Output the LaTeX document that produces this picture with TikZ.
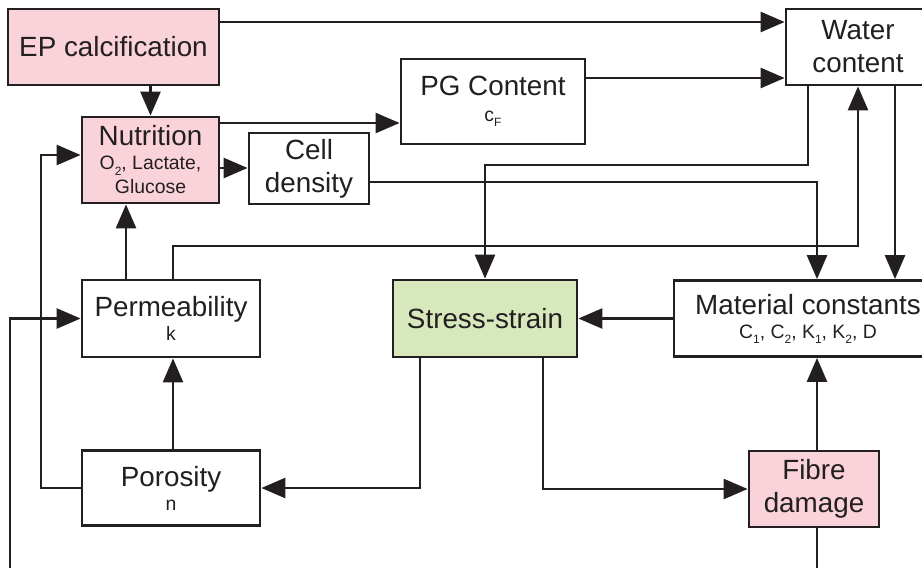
\documentclass[tikz,border=0pt]{standalone}
\usepackage{fontspec}
\setmainfont{Liberation Sans}
\usetikzlibrary{arrows.meta}

\definecolor{inkgray}{RGB}{35,31,32}
\definecolor{boxpink}{RGB}{250,211,218}
\definecolor{boxgreen}{RGB}{215,232,188}

% small lines under a box title and their lowered indices
\newcommand{\subline}{\fontsize{9.7}{11.5}\selectfont}
\newcommand{\lowidx}[1]{\raisebox{-0.5ex}{\fontsize{6}{6}\selectfont #1}}

\begin{document}
\begin{tikzpicture}[x=0.5pt,y=-0.5pt,>={Triangle[length=12pt,width=10pt]},
		flow/.style={->,line width=1.3pt,draw=inkgray},
		wire/.style={line width=1.3pt,draw=inkgray},
		main box/.style={rectangle,draw=inkgray,line width=1.4pt,fill=white,text=inkgray,
			align=center,inner sep=0pt,font=\fontsize{13.9}{12}\selectfont},
		two line/.style={font=\fontsize{13.9}{16.5}\selectfont}]
		
		\useasboundingbox (0,0) rectangle (922,568);
		\clip (0,0) rectangle (922,568);
		
		\node[main box,fill=boxpink,minimum width=105.5pt,minimum height=38pt] (ep) at (113.5,47) {EP calcification};
		\node[main box,fill=boxpink,minimum width=68.5pt,minimum height=43pt] (nutr) at (150.5,160)
		{Nutrition\\{\subline O\lowidx{2}, Lactate,}\\{\subline Glucose}};
		\node[main box,two line,minimum width=60pt,minimum height=35.5pt] (cell) at (309,168.5) {Cell\\density};
		\node[main box,minimum width=92pt,minimum height=42.5pt] (pg) at (493,101.5) {PG Content\\[1pt]{\subline c\lowidx{F}}};
		\node[main box,two line,minimum width=72pt,minimum height=38pt] (water) at (858,47) {Water\\content};
		\node[main box,minimum width=89pt,minimum height=38.5pt] (perm) at (171,318.5) {Permeability\\{\subline k}};
		\node[main box,fill=boxgreen,minimum width=92pt,minimum height=38.5pt] (stress) at (485,318.5) {Stress-strain};
		\node[main box,minimum width=134pt,minimum height=38pt] (mat) at (808,318.5)
		{Material constants\\{\subline C\lowidx{1}, C\lowidx{2}, K\lowidx{1}, K\lowidx{2}, D}};
		\node[main box,minimum width=89pt,minimum height=37.5pt] (poro) at (171,488) {Porosity\\{\subline n}};
		\node[main box,fill=boxpink,two line,minimum width=65pt,minimum height=38pt] (fibre) at (814,489) {Fibre\\damage};
		
		\coordinate (leftfeed) at (10,575);
		\coordinate (fibrefeed) at (817,575);
		
		% upper part
		\draw[flow] (ep.east |- 0,22) -- (water.west |- 0,22);
		\draw[flow] (pg.east |- 0,78) -- (water.west |- 0,78);
		\draw[flow] (ep.south -| nutr.north) -- (nutr.north);
		\draw[flow] (nutr.east |- 0,123) -- (pg.west |- 0,123);
		\draw[flow] (nutr.east |- 0,168) -- (cell.west |- 0,168);
		\draw[flow] (water.south -| 808,0) |- (stress.north |- 0,165) -- (stress.north);
		\draw[flow] (water.south -| 895,0) -- (mat.north -| 895,0);
		\draw[flow] (cell.east |- 0,182) -| (mat.north -| 817,0);
		\draw[flow] (perm.north -| 173,0) |- (water.south |- 0,246) -- (water.south);
		\draw[flow] (perm.north -| 126,0) -- (nutr.south -| 126,0);
		
		% lower part
		\draw[flow] (poro.west) -| (41,155) -- (nutr.west |- 0,155);
		\draw[flow] (leftfeed) |- (perm.west);
		\draw[flow] (poro.north -| 173,0) -- (perm.south -| 173,0);
		\draw[flow] (stress.south -| 420,0) |- (poro.east);
		\draw[flow] (stress.south -| 543,0) |- (fibre.west);
		\draw[flow] (fibre.north -| fibrefeed) -- (mat.south -| fibrefeed);
		\draw[flow] (mat.west) -- (stress.east);
		\draw[wire] (fibre.south -| fibrefeed) -- (fibrefeed);
		
\end{tikzpicture}
\end{document}
